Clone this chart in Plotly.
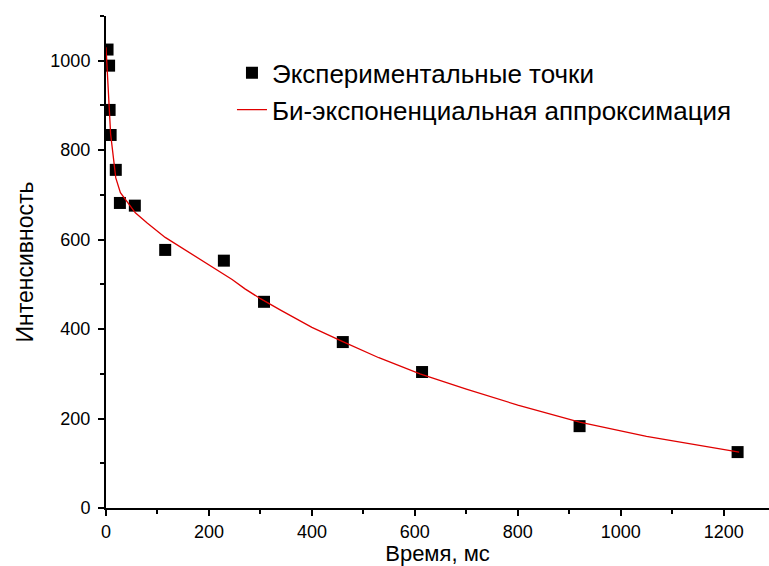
import plotly.graph_objects as go

# Experimental points (time, ms ; intensity)
exp_t = [3, 6, 7, 9, 19, 27, 56, 115, 229, 307, 460, 614, 920, 1227]
exp_i = [1025, 989, 890, 834, 756, 682, 676, 577, 553, 461, 371, 304, 183, 125]

# Bi-exponential fit curve
fit_t = [0, 3, 6, 9, 19, 28, 57, 80, 115, 150, 180, 210, 245, 270, 300, 340, 400,
         460, 530, 610, 700, 800, 920, 1050, 1230]
fit_i = [1030, 960, 890, 836, 738, 705, 660, 637, 605, 580, 558, 536, 511, 490, 468,
         442, 404, 372, 336, 300, 266, 230, 192, 160, 125]

name_exp = "Экспериментальные точки"
name_fit = "Би-экспоненциальная аппроксимация"

fig = go.Figure()
fig.add_trace(go.Scatter(x=exp_t, y=exp_i, mode="markers", name=name_exp,
                         marker=dict(symbol="square", size=12, color="black")))
fig.add_trace(go.Scatter(x=fit_t, y=fit_i, mode="lines", name=name_fit,
                         line=dict(color="#e00000", width=1.3)))

font = "Liberation Sans, Arial, sans-serif"
axis_common = dict(showline=True, linecolor="black", linewidth=2, showgrid=False,
                   zeroline=False, ticks="outside", tickcolor="black", tickwidth=2,
                   ticklen=6, automargin=False,
                   tickfont=dict(family=font, size=18, color="black"))

fig.update_layout(
    width=769, height=566,
    margin=dict(l=106, r=0, t=16, b=58),
    plot_bgcolor="white", paper_bgcolor="white",
    font=dict(family=font, color="black"),
    xaxis=dict(range=[0, 1288], dtick=200,
               minor=dict(ticks="outside", dtick=100, ticklen=4, tickwidth=2, tickcolor="black"),
               title=dict(text="Время, мс", font=dict(size=22), standoff=8),
               **axis_common),
    yaxis=dict(range=[0, 1100], dtick=200, ticklabelstandoff=4,
               minor=dict(ticks="outside", dtick=100, ticklen=4, tickwidth=2, tickcolor="black"),
               title=dict(text="Интенсивность", font=dict(size=23), standoff=10),
               **axis_common),
    legend=dict(x=0.19, y=0.932, xanchor="left", yanchor="top",
                bgcolor="rgba(0,0,0,0)", font=dict(family=font, size=26),
                tracegroupgap=0),
    showlegend=True,
)

fig.write_html("out.html")
